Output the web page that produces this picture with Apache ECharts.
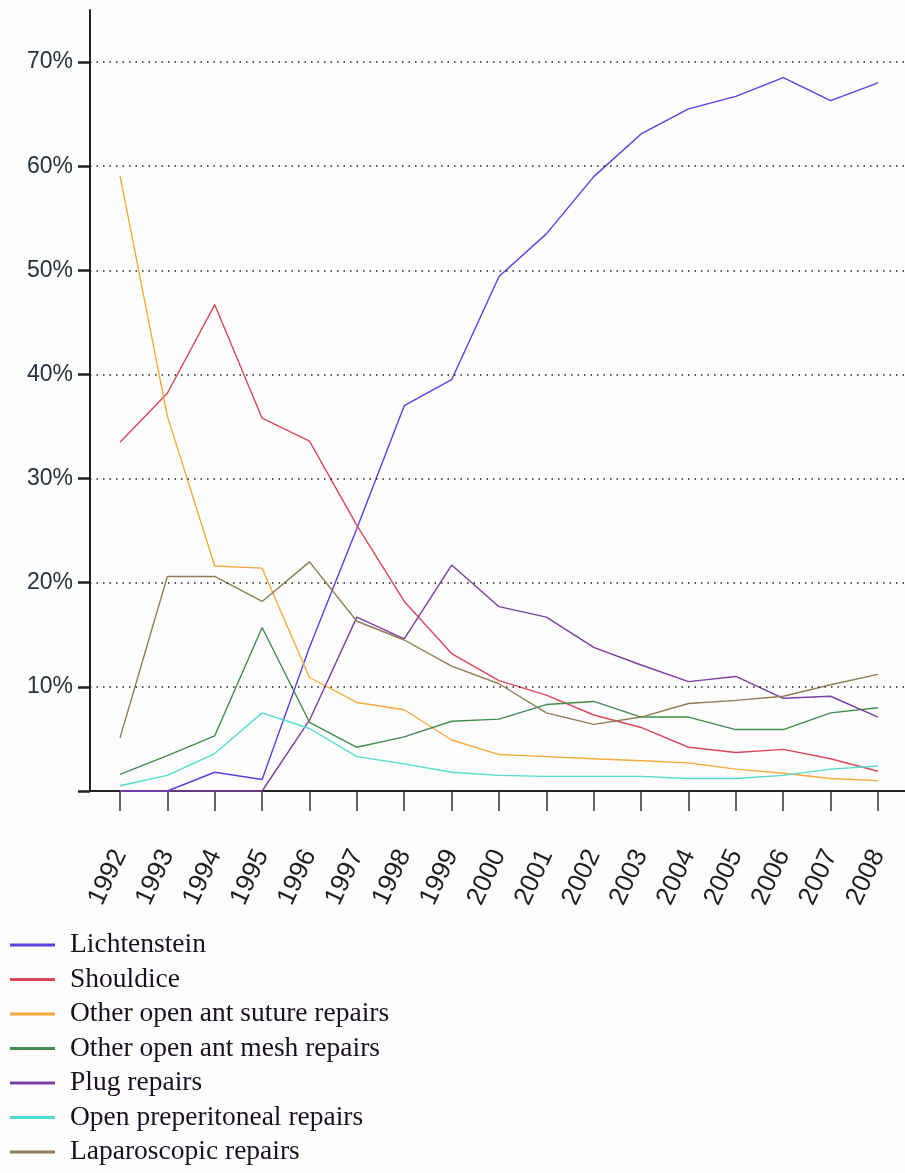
<!DOCTYPE html>
<html>
<head>
<meta charset="utf-8">
<script src="https://cdn.jsdelivr.net/npm/echarts@6/dist/echarts.min.js"></script>
<style>
html,body{margin:0;padding:0;background:#fdfdfd;}
#chart{width:905px;height:1173px;}
</style>
</head>
<body>
<div id="chart"></div>
<script>
const years = [1992,1993,1994,1995,1996,1997,1998,1999,2000,2001,2002,2003,2004,2005,2006,2007,2008];
const yTicks = [0,10,20,30,40,50,60,70];
const yLabels = [10,20,30,40,50,60,70];

const lichtenstein  = [0,0,1.8,1.1,13.8,25.2,37.0,39.5,49.4,53.5,59.0,63.1,65.5,66.7,68.5,66.3,68.0];
const shouldice     = [33.5,38.2,46.7,35.8,33.6,25.5,18.2,13.2,10.6,9.2,7.3,6.1,4.2,3.7,4.0,3.1,1.9];
const sutureRepairs = [59.1,36.0,21.6,21.4,10.9,8.5,7.8,4.9,3.5,3.3,3.1,2.9,2.7,2.1,1.7,1.2,1.0];
const meshRepairs   = [1.6,3.4,5.3,15.7,6.6,4.2,5.2,6.7,6.9,8.3,8.6,7.1,7.1,5.9,5.9,7.5,8.0];
const plugRepairs   = [0,0,0,0,6.8,16.7,14.6,21.7,17.7,16.7,13.8,12.1,10.5,11.0,8.9,9.1,7.1];
const preperitoneal = [0.5,1.5,3.6,7.5,6.0,3.3,2.6,1.8,1.5,1.4,1.4,1.4,1.2,1.2,1.5,2.1,2.4];
const laparoscopic  = [5.1,20.6,20.6,18.2,22.0,16.3,14.5,12.0,10.3,7.5,6.4,7.1,8.4,8.7,9.1,10.2,11.2];

const seriesDefs = [
  ['Lichtenstein', lichtenstein, '#5b3fe3'],
  ['Shouldice', shouldice, '#d9485a'],
  ['Other open ant suture repairs', sutureRepairs, '#f8a93c'],
  ['Other open ant mesh repairs', meshRepairs, '#3e8e49'],
  ['Plug repairs', plugRepairs, '#7d3fa3'],
  ['Open preperitoneal repairs', preperitoneal, '#52dccf'],
  ['Laparoscopic repairs', laparoscopic, '#8f7d55']
];

const chart = echarts.init(document.getElementById('chart'), null, {renderer:'canvas'});

const series = seriesDefs.map(([name, vals, color]) => ({
  name: name,
  type: 'line',
  data: years.map((y, i) => [y, vals[i]]),
  symbol: 'none',
  showSymbol: false,
  lineStyle: {color: color, width: 1.4},
  itemStyle: {color: color},
  emphasis: {disabled: true},
  animation: false,
  clip: false
}));

chart.setOption({
  backgroundColor: '#fdfdfd',
  animation: false,
  grid: {left: 90, right: 0, top: 10, bottom: 382, containLabel: false},
  xAxis: {
    type: 'value',
    min: 1991.367,
    max: 2008.57,
    axisLine: {show: true, onZero: false, lineStyle: {color: '#222', width: 2}},
    axisTick: {show: true, customValues: years, length: 20, lineStyle: {color: '#333', width: 1.5}},
    axisLabel: {
      customValues: years,
      rotate: 65,
      margin: 60,
      fontFamily: 'Liberation Sans, Arial, sans-serif',
      fontSize: 26,
      color: '#1e1e1e',
      formatter: v => String(v)
    },
    splitLine: {show: false}
  },
  yAxis: {
    type: 'value',
    min: 0,
    max: 75,
    axisLine: {show: true, lineStyle: {color: '#222', width: 2}},
    axisTick: {show: true, customValues: yTicks, length: 12, lineStyle: {color: '#222', width: 2.5}},
    axisLabel: {
      customValues: yLabels,
      margin: 17,
      fontFamily: 'Liberation Sans Narrow, Arial Narrow, Liberation Sans, sans-serif',
      fontSize: 23,
      color: '#26313c',
      formatter: v => v + '%'
    },
    splitLine: {show: false}
  },
  legend: {
    orient: 'vertical',
    left: 10,
    top: 930,
    bottom: 0,
    padding: 0,
    icon: 'rect',
    itemWidth: 45,
    itemHeight: 3,
    itemGap: 4.5,
    textStyle: {
      fontFamily: 'Liberation Serif, Times New Roman, serif',
      fontSize: 27.5,
      lineHeight: 30,
      color: '#1a1020',
      padding: [0, 0, 0, 10]
    },
    data: seriesDefs.map(d => d[0])
  },
  series: [
    {
      name: '__grid',
      type: 'line',
      data: [],
      silent: true,
      markLine: {
        silent: true,
        symbol: 'none',
        animation: false,
        label: {show: false},
        lineStyle: {color: '#222', type: [1.5, 5], width: 1.5},
        data: yLabels.map(v => ({yAxis: v}))
      }
    }
  ].concat(series)
});
</script>
</body>
</html>
